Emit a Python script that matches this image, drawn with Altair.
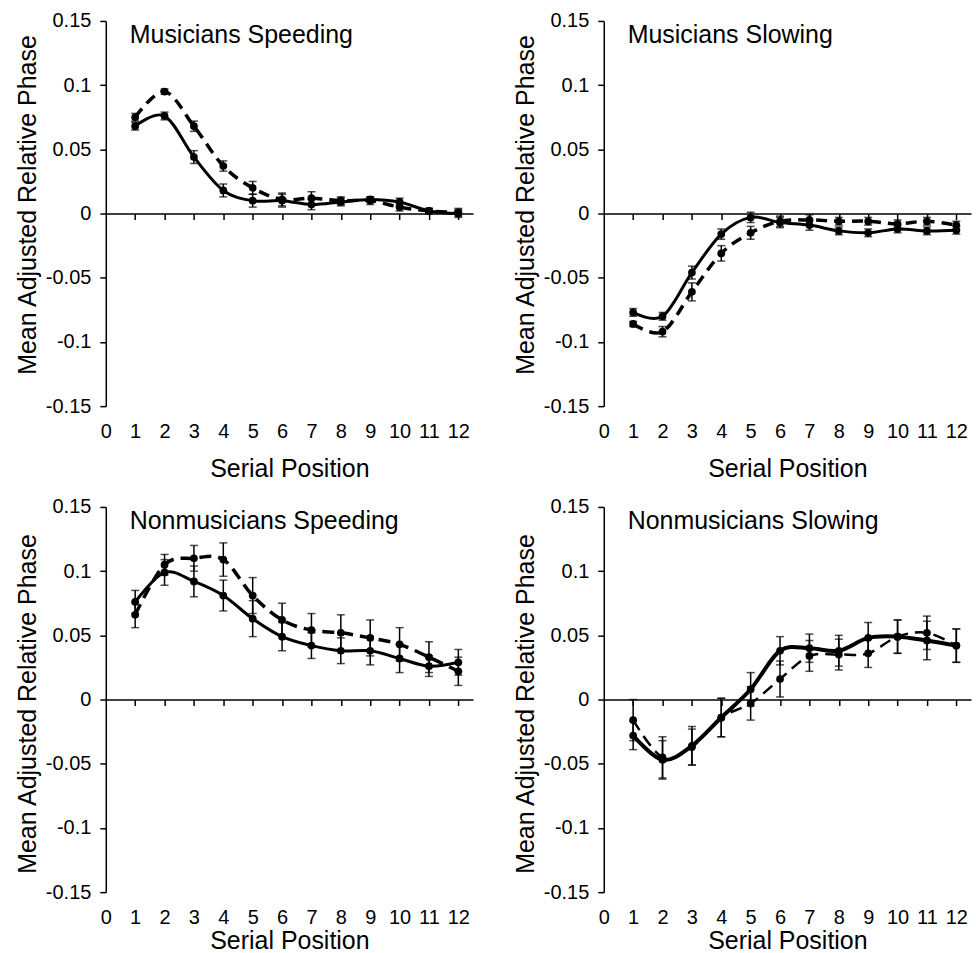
import altair as alt
import pandas as pd

positions = list(range(1, 13))
x_tick_values = list(range(0, 13))
y_tick_values = [-0.15, -0.1, -0.05, 0, 0.05, 0.1, 0.15]
panel_titles = ["Musicians Speeding", "Musicians Slowing",
                "Nonmusicians Speeding", "Nonmusicians Slowing"]
x_title = "Serial Position"
y_title = "Mean Adjusted Relative Phase"

# Musicians Speeding
ms_solid = [0.068, 0.076, 0.044, 0.018, 0.010, 0.010, 0.007, 0.009, 0.011, 0.009, 0.002, 0.000]
ms_solid_err = [0.003, 0.003, 0.005, 0.005, 0.005, 0.005, 0.004, 0.003, 0.002, 0.003, 0.002, 0.003]
ms_dashed = [0.075, 0.095, 0.068, 0.037, 0.020, 0.011, 0.012, 0.010, 0.010, 0.005, 0.002, 0.001]
ms_dashed_err = [0.003, 0.002, 0.004, 0.004, 0.005, 0.005, 0.005, 0.003, 0.003, 0.003, 0.002, 0.003]

# Musicians Slowing
msl_solid = [-0.077, -0.080, -0.046, -0.016, -0.003, -0.007, -0.009, -0.0135, -0.015, -0.012, -0.0135, -0.013]
msl_solid_err = [0.003, 0.003, 0.005, 0.004, 0.004, 0.004, 0.004, 0.003, 0.003, 0.003, 0.003, 0.003]
msl_dashed = [-0.086, -0.092, -0.061, -0.031, -0.015, -0.006, -0.005, -0.006, -0.006, -0.008, -0.006, -0.009]
msl_dashed_err = [0.002, 0.004, 0.007, 0.006, 0.005, 0.004, 0.004, 0.003, 0.003, 0.003, 0.003, 0.003]

# Nonmusicians Speeding
ns_solid = [0.076, 0.099, 0.092, 0.081, 0.063, 0.049, 0.042, 0.038, 0.038, 0.032, 0.026, 0.029]
ns_solid_err = [0.009, 0.010, 0.012, 0.012, 0.014, 0.011, 0.010, 0.010, 0.011, 0.011, 0.008, 0.010]
ns_dashed = [0.066, 0.105, 0.110, 0.109, 0.081, 0.062, 0.054, 0.052, 0.048, 0.043, 0.033, 0.022]
ns_dashed_err = [0.010, 0.008, 0.010, 0.013, 0.014, 0.013, 0.013, 0.014, 0.014, 0.013, 0.012, 0.011]

# Nonmusicians Slowing
nsl_solid = [-0.028, -0.047, -0.036, -0.014, 0.008, 0.038, 0.040, 0.038, 0.048, 0.049, 0.046, 0.042]
nsl_solid_err = [0.011, 0.015, 0.015, 0.015, 0.013, 0.011, 0.011, 0.012, 0.012, 0.013, 0.015, 0.013]
nsl_dashed = [-0.016, -0.045, -0.037, -0.014, -0.003, 0.016, 0.034, 0.035, 0.036, 0.049, 0.052, 0.042]
nsl_dashed_err = [0.016, 0.016, 0.014, 0.015, 0.013, 0.014, 0.012, 0.012, 0.011, 0.013, 0.013, 0.013]

W, H = 368, 386
FONT = "Liberation Sans, Arial, sans-serif"
LABEL_SIZE = 20
TITLE_SIZE = 25


def series_df(mean, err):
    return pd.DataFrame({
        "pos": positions,
        "val": mean,
        "lo": [m - e for m, e in zip(mean, err)],
        "hi": [m + e for m, e in zip(mean, err)],
    })


def make_panel(title, solid, solid_err, dashed, dashed_err, style, row):
    xs = alt.Scale(domain=[0, 12.5], nice=False, zero=False)
    ys = alt.Scale(domain=[-0.15, 0.15], nice=False, zero=False)
    yaxis = alt.Axis(values=y_tick_values, labelExpr="datum.value + ''",
                     title=y_title, titleY=row["titleY"], tickSize=6,
                     labelPadding=9, titlePadding=5, domainColor="black",
                     tickColor="black", domainWidth=1.5, tickWidth=1.5,
                     labelFont=FONT, labelFontSize=LABEL_SIZE, labelColor="black",
                     titleFont=FONT, titleFontSize=TITLE_SIZE, titleColor="black",
                     titleFontWeight="normal", grid=False)
    xaxis_labels = alt.Axis(values=x_tick_values, orient="bottom", domain=False,
                            ticks=False, tickSize=0, labelPadding=15,
                            labelFont=FONT, labelFontSize=LABEL_SIZE, labelColor="black",
                            labelFlush=False, labelOverlap=False,
                            title=x_title, titlePadding=row["xTitlePad"],
                            titleFont=FONT, titleFontSize=TITLE_SIZE, titleColor="black",
                            titleFontWeight="normal", grid=False)
    xaxis_zero = alt.Axis(values=positions, orient="bottom", offset=-H / 2,
                          domain=True, ticks=True, tickSize=6, labels=False,
                          title=None, grid=False, domainColor="black",
                          domainWidth=1.5, tickColor="black", tickWidth=1.5)

    layers = []
    first = True
    for name, mean, err in [("dashed", dashed, dashed_err), ("solid", solid, solid_err)]:
        df = series_df(mean, err)
        base = alt.Chart(df)
        rules = base.mark_rule(strokeWidth=1.5, color="black").encode(
            x=alt.X("pos:Q", scale=xs, axis=xaxis_zero if first else None),
            y=alt.Y("lo:Q", scale=ys, axis=yaxis),
            y2="hi:Q",
        )
        cap_lo = base.mark_tick(orient="horizontal", size=8, thickness=1.5, color="black").encode(
            x=alt.X("pos:Q", scale=xs, axis=None),
            y=alt.Y("lo:Q", scale=ys, axis=yaxis),
        )
        cap_hi = base.mark_tick(orient="horizontal", size=8, thickness=1.5, color="black").encode(
            x=alt.X("pos:Q", scale=xs, axis=None),
            y=alt.Y("hi:Q", scale=ys, axis=yaxis),
        )
        line_kwargs = dict(interpolate="cardinal", color="black",
                           strokeWidth=style[name + "_width"])
        if name == "dashed":
            line_kwargs["strokeDash"] = style["dash"]
        line = base.mark_line(**line_kwargs).encode(
            x=alt.X("pos:Q", scale=xs, axis=xaxis_labels if first else None),
            y=alt.Y("val:Q", scale=ys, axis=yaxis),
        )
        pts = base.mark_circle(size=60, opacity=1, color="black").encode(
            x=alt.X("pos:Q", scale=xs, axis=None),
            y=alt.Y("val:Q", scale=ys, axis=yaxis),
        )
        layers += [rules, cap_lo, cap_hi, line, pts]
        first = False

    label = alt.Chart(pd.DataFrame({"t": [title]})).mark_text(
        align="left", baseline="alphabetic", font=FONT, fontSize=TITLE_SIZE, color="black"
    ).encode(text="t:N", x=alt.value(24), y=alt.value(22))
    layers.append(label)

    return alt.layer(*layers).resolve_axis(x="independent").properties(width=W, height=H)


top_row = {"titleY": 184, "xTitlePad": 15}
bottom_row = {"titleY": 197, "xTitlePad": 1}
thin_style = {"solid_width": 3, "dashed_width": 3.5, "dash": [11, 7]}
ns_style = {"solid_width": 3, "dashed_width": 3.5, "dash": [12, 7]}
nsl_style = {"solid_width": 4, "dashed_width": 2.5, "dash": [12, 7]}

p1 = make_panel(panel_titles[0], ms_solid, ms_solid_err, ms_dashed, ms_dashed_err, thin_style, top_row)
p2 = make_panel(panel_titles[1], msl_solid, msl_solid_err, msl_dashed, msl_dashed_err, thin_style, top_row)
p3 = make_panel(panel_titles[2], ns_solid, ns_solid_err, ns_dashed, ns_dashed_err, ns_style, bottom_row)
p4 = make_panel(panel_titles[3], nsl_solid, nsl_solid_err, nsl_dashed, nsl_dashed_err, nsl_style, bottom_row)

chart = alt.concat(
    p1, p2, p3, p4, columns=2, spacing={"row": 101, "column": 131}, bounds="flush"
).properties(
    padding={"left": 15, "top": 10, "right": 5, "bottom": 5},
    background="white",
).configure_view(stroke=None)

chart.save("out.html", embed_options={"renderer": "svg", "actions": False})
